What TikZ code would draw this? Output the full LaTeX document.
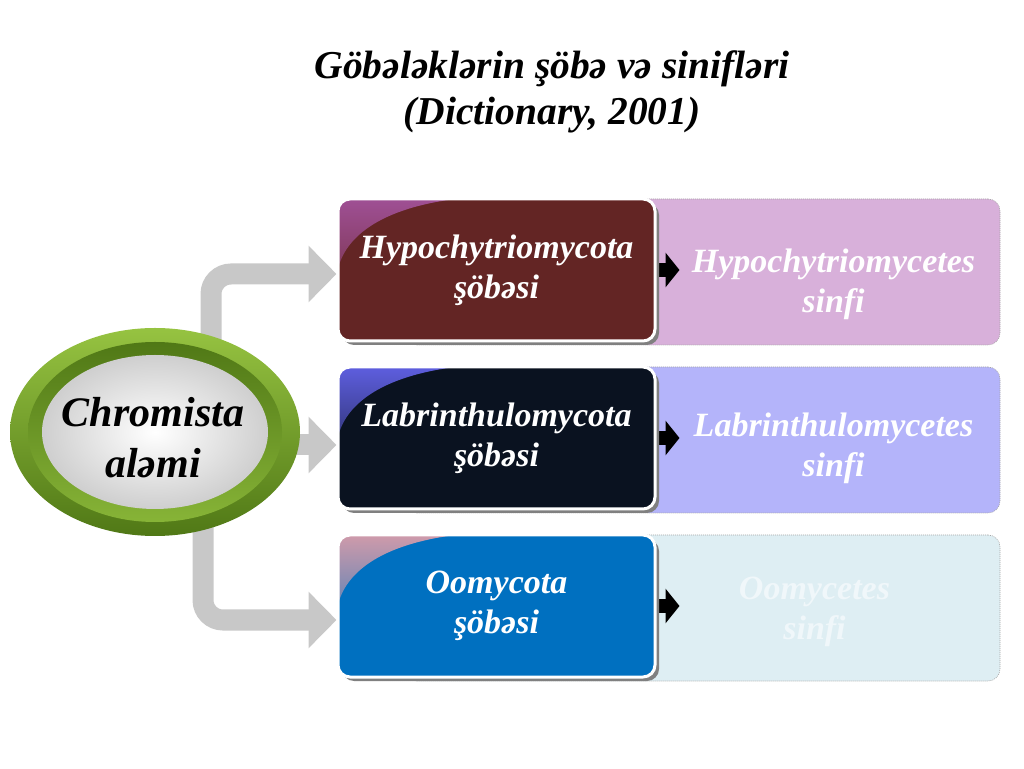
\documentclass[tikz,border=0pt]{standalone}
\usepackage{fontspec}
\setmainfont{Liberation Serif}
\usetikzlibrary{arrows.meta, positioning, shadows, backgrounds}

\definecolor{hypodark}{RGB}{99,37,36}
\definecolor{labrdark}{RGB}{10,18,32}
\definecolor{oomydark}{RGB}{0,112,192}
\definecolor{hypogloss}{RGB}{160,80,150}
\definecolor{labrgloss}{RGB}{95,95,225}
\definecolor{oomygloss}{RGB}{210,155,170}
\definecolor{hypolight}{RGB}{216,176,218}
\definecolor{labrlight}{RGB}{180,180,250}
\definecolor{oomylight}{RGB}{222,238,243}
\definecolor{oomytext}{RGB}{240,247,250}
\definecolor{ringlight}{RGB}{150,195,65}
\definecolor{ringmid}{RGB}{135,180,55}
\definecolor{ringdark}{RGB}{80,120,22}
\definecolor{branchgray}{RGB}{200,200,200}

\tikzset{
    heading/.style={align=center, font=\bfseries\itshape\fontsize{39.5}{46}\selectfont},
    kingdom/.style={align=center, font=\bfseries\itshape\fontsize{42}{51}\selectfont},
    phylum/.style 2 args={rounded corners=12pt, draw=white, line width=3pt, fill=#1,
        minimum width=317pt, minimum height=142pt, align=center, text=white,
        font=\bfseries\itshape\fontsize{34}{40}\selectfont,
        drop shadow={shadow xshift=4pt, shadow yshift=-4pt, fill=gray, opacity=1},
        path picture={\shade[top color=#2, bottom color=#1]
            ([shift={(-2pt,2pt)}]path picture bounding box.north west) -- ++(137pt,0pt)
            .. controls +(-90pt,-10pt) and +(0pt,60pt) ..
            ([shift={(-2pt,-98pt)}]path picture bounding box.north west) -- cycle;}},
    classbox/.style={rounded corners=12pt, draw=gray!70, line width=0.6pt,
        dash pattern=on 1pt off 1pt, minimum width=595pt, minimum height=146pt},
    classname/.style={align=center, text=white,
        font=\bfseries\itshape\fontsize{34}{40}\selectfont},
    pointer/.style={draw=black, line width=14pt, -{Triangle[length=14pt, width=34pt]}},
    branch/.style={draw=branchgray, line width=21pt, rounded corners=20pt,
        -{Triangle[length=28pt, width=55pt]}}
}

\begin{document}
\begin{tikzpicture}[x=1pt, y=1pt]
    \useasboundingbox (0,0) rectangle (1024,768);

    % Title
    \node[heading] (title) at (552,676) {Göbələklərin şöbə və sinifləri\\(Dictionary, 2001)};

    % The kingdom ring
    \shade[top color=ringlight, bottom color=ringdark] (155,336) ellipse [x radius=145, y radius=104];
    \shade[top color=ringdark, bottom color=ringmid] (155,336) ellipse [x radius=127, y radius=90];
    \shade[inner color=white, outer color=gray!38] (155,336) ellipse [x radius=113, y radius=77];
    \node[kingdom] (chrom) at (153,330) {Chromista\\aləmi};

    % Draw the phyla
    \node[phylum={hypodark}{hypogloss}]                     (hypo) at (496.5,498) {Hypochytriomycota\\şöbəsi};
    \node[phylum={labrdark}{labrgloss}, below=23pt of hypo] (labr) {Labrinthulomycota\\şöbəsi};
    \node[phylum={oomydark}{oomygloss}, below=23pt of labr] (oomy) {Oomycota\\şöbəsi};

    \begin{scope}[on background layer]
        % Boxes of the classes
        \node[classbox, fill=hypolight] (hypob) at ([shift={(206pt,-2pt)}]hypo.center) {};
        \node[classbox, fill=labrlight] (labrb) at ([shift={(206pt,-2pt)}]labr.center) {};
        \node[classbox, fill=oomylight] (oomyb) at ([shift={(206pt,-2pt)}]oomy.center) {};

        % Connect phyla and classes
        \draw[pointer] (hypo.east) -- ++(23pt,0);
        \draw[pointer] (labr.east) -- ++(23pt,0);
        \draw[pointer] (oomy.east) -- ++(23pt,0);

        % Connect the kingdom with the phyla
        \draw[branch] ([xshift=58pt]chrom.center) |- ([yshift=-4pt]hypo.west);
        \draw[branch] ([yshift=-7pt]labr.west -| chrom.center) -- ([yshift=-7pt]labr.west);
        \draw[branch] ([xshift=50pt]chrom.center) |- ([yshift=-14pt]oomy.west);
    \end{scope}

    % Names of the classes
    \node[classname]                (hypoc) at ([shift={(131pt,-12pt)}]hypob.center) {Hypochytriomycetes\\sinfi};
    \node[classname]                (labrc) at ([shift={(131pt,-8pt)}]labrb.center) {Labrinthulomycetes\\sinfi};
    \node[classname, text=oomytext] (oomyc) at ([shift={(112pt,-4pt)}]oomyb.center) {Oomycetes\\sinfi};
\end{tikzpicture}
\end{document}
